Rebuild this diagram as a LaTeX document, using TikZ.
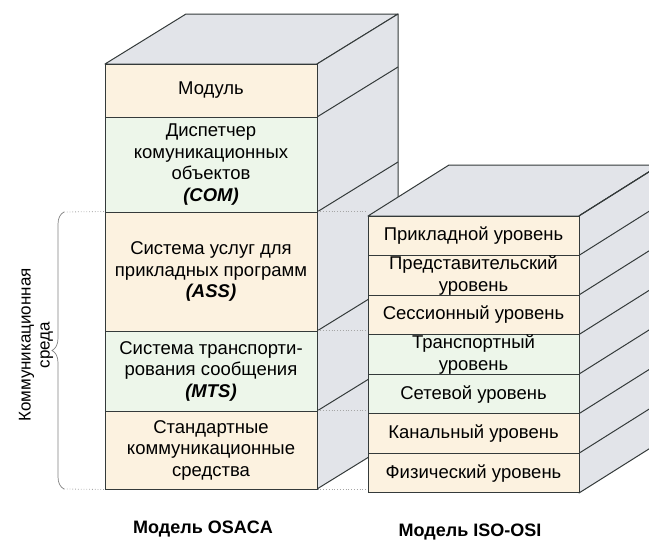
\documentclass[tikz,border=0pt]{standalone}
\usepackage{fontspec}
\setmainfont{Liberation Sans}
\usetikzlibrary{decorations.pathreplacing}
\definecolor{cream}{RGB}{252,242,224}
\definecolor{mint}{RGB}{237,246,234}
\definecolor{sidegray}{RGB}{226,228,233}
\definecolor{edgecol}{RGB}{52,58,58}

\begin{document}
\begin{tikzpicture}[x=1pt,y=-1pt,line width=1pt,
  layer/.style={draw=edgecol,minimum width=212pt,inner sep=0pt,align=center,
    font=\fontsize{18.5}{21.5}\selectfont},
  face/.style={draw=edgecol,fill=sidegray,line join=round},
  dots/.style={gray!70,dotted,line width=0.8pt}]

\useasboundingbox (0,0) rectangle (649,541);
\clip (0,0) rectangle (649,541);

% Left block (OSACA)
\draw[face] (105,64) -- (186,14) -- (398,14) -- (317,64) -- cycle; % top
\draw[face] (317,64) -- (398,14) -- (398,439) -- (317,489) -- cycle; % side
\foreach \y in {117,212,331,411}
    \draw[edgecol] (317,\y) -- ++(81,-50);

\node[layer,fill=cream,minimum height=53pt] (mod) at (211,90.5) {Модуль};
\node[layer,fill=mint,minimum height=95pt] (com) at (211,164.5)
    {Диспетчер\\комуникационных\\объектов\\\textbf{\textit{(COM)}}};
\node[layer,fill=cream,minimum height=119pt] (ass) at (211,271.5)
    {Система услуг для\\прикладных программ\\\textbf{\textit{(ASS)}}};
\node[layer,fill=mint,minimum height=80pt] (mts) at (211,371)
    {Система транспорти-\\рования сообщения\\\textbf{\textit{(MTS)}}};
\node[layer,fill=cream,minimum height=78pt] (std) at (211,450)
    {Стандартные\\коммуникационные\\средства};

% Right block (ISO-OSI)
\draw[face] (368,216) -- (449,165) -- (660,165) -- (579,216) -- cycle; % top
\draw[face] (579,216) -- (660,165) -- (660,442) -- (579,493) -- cycle; % side

\foreach \name/\txt/\col [count=\i] in {
    app/{Прикладной уровень}/cream,
    pres/{Представительский\\уровень}/cream,
    sess/{Сессионный уровень}/cream,
    trans/{Транспортный\\уровень}/mint,
    net/{Сетевой уровень}/mint,
    link/{Канальный уровень}/cream,
    phys/{Физический уровень}/cream}
{
    \node[layer,fill=\col,minimum width=211pt,minimum height=39.57pt]
        (\name) at (473.5,{216+(\i-0.5)*39.57}) {\txt};
    \draw[edgecol] (\name.north east) -- ++(81,-51);
}

% dotted guides between the blocks
\draw[dots] (ass.north east) -- (ass.north east -| app.west);
\draw[dots] (mts.north east) -- (mts.north east -| app.west);
\draw[dots] (std.north east) -- (std.north east -| app.west);
\draw[dots] (std.south east) -- (std.south east -| app.west);

% brace for the communication environment
\coordinate (btop) at (64,212);
\coordinate (bbot) at (64,489);
\draw[gray,line width=0.7pt,decorate,decoration={brace,amplitude=12pt}] (bbot) -- (btop);
\draw[dots] (btop) -- (ass.north west);
\draw[dots] (bbot) -- (std.south west);
\node[rotate=90,align=center,font=\fontsize{17}{19}\selectfont] (env) at (36,345)
    {Коммуникационная\\среда};

% captions
\node[font=\fontsize{18}{21}\selectfont\bfseries] (osaca) at (203,529) {Модель OSACA};
\node[font=\fontsize{18}{21}\selectfont\bfseries] (isoosi) at (470,532) {Модель ISO-OSI};
\end{tikzpicture}
\end{document}
